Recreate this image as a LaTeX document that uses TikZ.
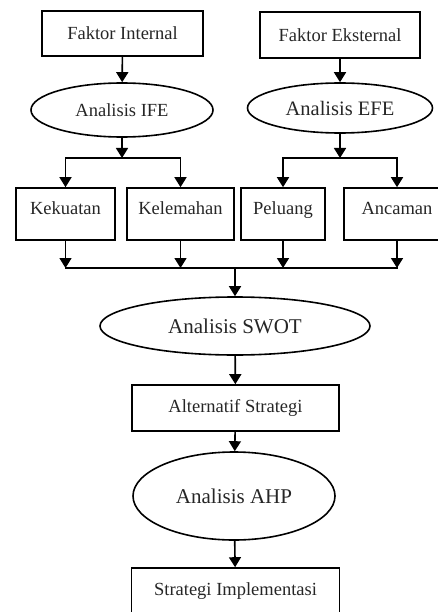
\documentclass[tikz,border=0pt]{standalone}
\usepackage{fontspec}
\setmainfont{Liberation Serif}
\usetikzlibrary{shapes.geometric, arrows.meta, positioning}

\tikzset{
    box/.style={rectangle, draw=black, line width=1.6pt, inner sep=0pt,
                font=\fontsize{18.5}{22}\selectfont, text=black!85},
    oval/.style={ellipse, draw=black, line width=1.6pt, inner sep=0pt,
                 font=\fontsize{18.5}{22}\selectfont, text=black!85},
    arr/.style={line width=1.6pt, -{Triangle[width=12pt, length=10pt]}}
}

\begin{document}
\begin{tikzpicture}[x=1pt, y=-1pt]
            \useasboundingbox (0,0) rectangle (438,612);

            % Factors
            \node[box, minimum width=161pt, minimum height=45pt] (fi) at (122.5,33.5) {Faktor Internal};
            \node[box, minimum width=160pt, minimum height=46pt] (fe) at (340,35) {Faktor Eksternal};

            % IFE / EFE
            \node[oval, minimum width=182pt, minimum height=54pt] (ife) at (122,110) {Analisis IFE};
            \node[oval, minimum width=185pt, minimum height=50pt,
                  font=\fontsize{20.5}{24}\selectfont] (efe) at (340,108) {Analisis EFE};

            % Branch points
            \coordinate (ib) at (122,158);
            \coordinate (eb) at (340,158);

            % SWOT factors
            \foreach \name/\x/\w/\txt in {kek/65.5/99/Kekuatan, kel/180.5/107/Kelemahan,
                                          pel/283/84/Peluang, anc/397/106/Ancaman} {
                \node[box, minimum width=\w pt, minimum height=52pt,
                      text height=13pt, text depth=12pt] (\name) at (\x,214) {\txt};
            }

            % Merge point
            \coordinate (m) at (235,268);

            % Lower chain
            \node[oval, minimum width=270pt, minimum height=58pt,
                  font=\fontsize{21}{25}\selectfont] (swot) at (235,326) {Analisis SWOT};
            \node[box, minimum width=207pt, minimum height=46pt] (alt) at (235.5,408) {Alternatif Strategi};
            \node[oval, minimum width=202pt, minimum height=88pt,
                  font=\fontsize{21}{25}\selectfont] (ahp) at (234,496) {Analisis AHP};
            \node[box, minimum width=208pt, minimum height=46pt] (impl) at (235.5,591) {Strategi Implementasi};

            % Connections
            \draw[arr] (fi) -- (ife);
            \draw[arr] (fe) -- (efe);
            \draw[arr] (ife) -- (ib);
            \draw[arr] (efe) -- (eb);
            \draw[arr, line cap=rect] (ib) -| (kek);
            \draw[arr, line cap=rect] (ib) -| (kel);
            \draw[arr, line cap=rect] (eb) -| (pel);
            \draw[arr, line cap=rect] (eb) -| (anc);
            \foreach \name in {kek, kel, pel, anc} {
                \draw[arr] (\name) -- (\name |- m);
            }
            \draw[line width=1.6pt, line cap=rect] (kek |- m) -- (anc |- m);
            \draw[arr] (m) -- (swot);
            \draw[arr] (swot) -- (alt);
            \draw[arr] (alt) -- (ahp);
            \draw[arr] (ahp) -- (impl);
        \end{tikzpicture}
\end{document}
